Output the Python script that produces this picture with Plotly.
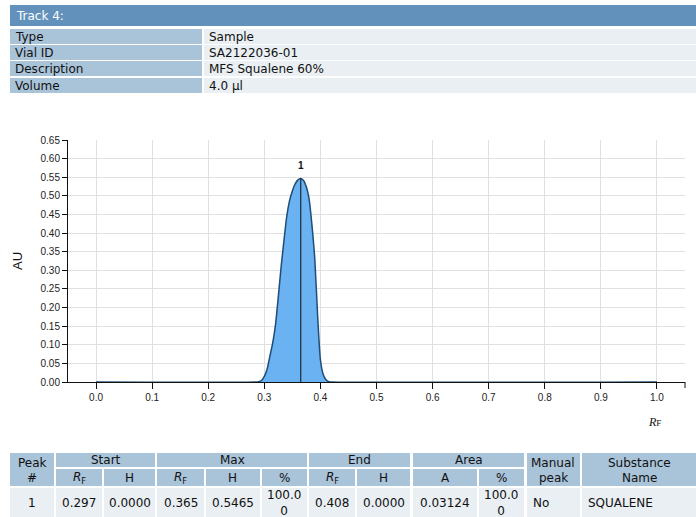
import plotly.graph_objects as go

# Densitogram of track 4 (Rf vs absorbance)
rf = [0.0, 0.285, 0.290, 0.295, 0.300, 0.305, 0.310, 0.315, 0.320, 0.325, 0.330,
      0.335, 0.340, 0.345, 0.350, 0.355, 0.360, 0.365, 0.370, 0.375, 0.380,
      0.385, 0.390, 0.395, 0.400, 0.405, 0.410, 0.415, 0.420, 1.0]
au = [0.0, 0.0, 0.001, 0.004, 0.015, 0.035, 0.07, 0.105, 0.155, 0.23, 0.31,
      0.38, 0.445, 0.487, 0.513, 0.532, 0.543, 0.5465, 0.541, 0.524, 0.49,
      0.42, 0.33, 0.18, 0.06, 0.02, 0.006, 0.001, 0.0, 0.0]

peak_ids = ["1"]
peak_rf = [0.365]
peak_h = [0.5465]

y_ticks = [round(i * 0.05, 2) for i in range(14)]
x_ticks = [round(i * 0.1, 1) for i in range(11)]

info_labels = ["Type", "Vial ID", "Description", "Volume"]
info_values = ["Sample", "SA2122036-01", "MFS Squalene 60%", "4.0 µl"]

# peak table
group_headers = ["Start", "Max", "End", "Area"]
sub_headers = ["<i>R</i><sub>F</sub>", "H", "<i>R</i><sub>F</sub>", "H", "%",
               "<i>R</i><sub>F</sub>", "H", "A", "%"]
row_values = ["1", "0.297", "0.0000", "0.365", "0.5465", "100.0<br>0",
              "0.408", "0.0000", "0.03124", "100.0<br>0", "No", "SQUALENE"]

W, H = 696, 517
L, R, T, B = 68, 685, 140, 382


def px(x):
    return (x - L) / (R - L)


def py(y):
    return (B - y) / (B - T)


FONT = "DejaVu Sans"
HEAD_DARK = "#6292bb"
LABEL_BG = "#a9c3d9"
VALUE_BG = "#e9eff3"

fig = go.Figure()

fig.add_trace(go.Scatter(
    x=rf, y=au, mode="lines",
    line=dict(color="#1d4d78", width=1.5, shape="spline", smoothing=0.6),
    fill="tozeroy", fillcolor="#6bb2f3", hoverinfo="x+y", showlegend=False))

for pid, prf, ph in zip(peak_ids, peak_rf, peak_h):
    fig.add_trace(go.Scatter(x=[prf, prf], y=[0, ph], mode="lines",
                             line=dict(color="#111", width=1), showlegend=False,
                             hoverinfo="skip"))
    fig.add_annotation(x=prf, y=ph, text="<b>" + pid + "</b>", showarrow=False,
                       yshift=13,
                       font=dict(family="Liberation Sans", size=10, color="#111"))

shapes = []
ann = []


def rect(x0, y0, x1, y1, color):
    shapes.append(dict(type="rect", xref="paper", yref="paper",
                       x0=px(x0), x1=px(x1), y0=py(y1), y1=py(y0),
                       fillcolor=color, line=dict(width=0), layer="below"))


def text(x, y, s, anchor="left", size=12, color="#111", family=FONT):
    ann.append(dict(xref="paper", yref="paper", x=px(x), y=py(y), text=s,
                    showarrow=False, xanchor=anchor, yanchor="middle",
                    font=dict(family=family, size=size, color=color)))


# header block
rect(10, 5, 696, 26, HEAD_DARK)
text(14, 16, "Track 4:", color="white", size=12)
row_tops = [29, 45, 61, 78]
for top, lab, val in zip(row_tops, info_labels, info_values):
    rect(10, top, 202, top + 15, LABEL_BG)
    rect(204, top, 696, top + 15, VALUE_BG)
    text(13, top + 8, lab)
    text(207, top + 8, val)

# axis end tick and x-axis title
shapes.append(dict(type="line", xref="paper", yref="paper",
                   x0=1, x1=1, y0=0, y1=py(388), line=dict(color="#111", width=1)))
text(646, 422, "<i>R</i><span style='font-size:9px'>F</span>", size=12,
     family="Liberation Serif")

# peak table
cols = [(10, 54), (56, 102), (104, 155), (157, 204), (206, 260), (262, 307),
        (309, 355), (357, 410), (413, 477), (479, 524), (527, 580), (582, 696)]
r1, r2, r3 = (453, 467), (469, 486), (488, 517)
rect(10, r1[0], 54, r2[1], LABEL_BG)
text(32, 463, "Peak", anchor="center")
text(32, 478, "#", anchor="center")
spans = [(1, 2), (3, 5), (6, 7), (8, 9)]
for (a, b), g in zip(spans, group_headers):
    rect(cols[a][0], r1[0], cols[b][1], r1[1], LABEL_BG)
    text((cols[a][0] + cols[b][1]) / 2, 460, g, anchor="center")
for i, s in enumerate(sub_headers):
    c = cols[i + 1]
    rect(c[0], r2[0], c[1], r2[1], LABEL_BG)
    text((c[0] + c[1]) / 2, 478, s, anchor="center")
rect(527, r1[0], 580, r2[1], LABEL_BG)
text(553, 463, "Manual", anchor="center")
text(553, 478, "peak", anchor="center")
rect(582, r1[0], 696, r2[1], LABEL_BG)
text(639, 463, "Substance", anchor="center")
text(639, 478, "Name", anchor="center")
for i, (c, v) in enumerate(zip(cols, row_values)):
    rect(c[0], r3[0], c[1], r3[1], VALUE_BG)
    if i == 0:
        text((c[0] + c[1]) / 2, 503, v, anchor="center")
    elif "<br>" in v:
        text(c[0] + 3, 503, v)
    elif i >= 10:
        text(c[0] + 4, 503, v)
    else:
        text((c[0] + c[1]) / 2, 503, v, anchor="center")

fig.update_layout(
    width=W, height=H, autosize=False,
    margin=dict(l=L, r=W - R, t=T, b=H - B),
    paper_bgcolor="white", plot_bgcolor="white",
    shapes=shapes, annotations=list(fig.layout.annotations) + ann,
    font=dict(family="Liberation Sans", size=10, color="#222"),
)
fig.update_xaxes(range=[-0.05, 1.05], tickvals=x_ticks, tickformat=".1f",
                 showgrid=True, gridcolor="#e0e0e0", gridwidth=1,
                 zeroline=False, showline=True, linecolor="#111", linewidth=1,
                 ticks="outside", ticklen=6, tickcolor="#111",
                 tickfont=dict(family="Liberation Sans", size=10, color="#222"))
fig.update_yaxes(range=[0, 0.65], tickvals=y_ticks, tickformat=".2f",
                 showgrid=True, gridcolor="#e0e0e0", gridwidth=1,
                 zeroline=False, showline=True, linecolor="#111", linewidth=1,
                 ticks="outside", ticklen=5, tickcolor="#111",
                 tickfont=dict(family="Liberation Sans", size=10, color="#222"),
                 title=dict(text="AU", font=dict(family="Liberation Sans", size=13,
                                                 color="#111"), standoff=14))

fig.write_html("out.html")
